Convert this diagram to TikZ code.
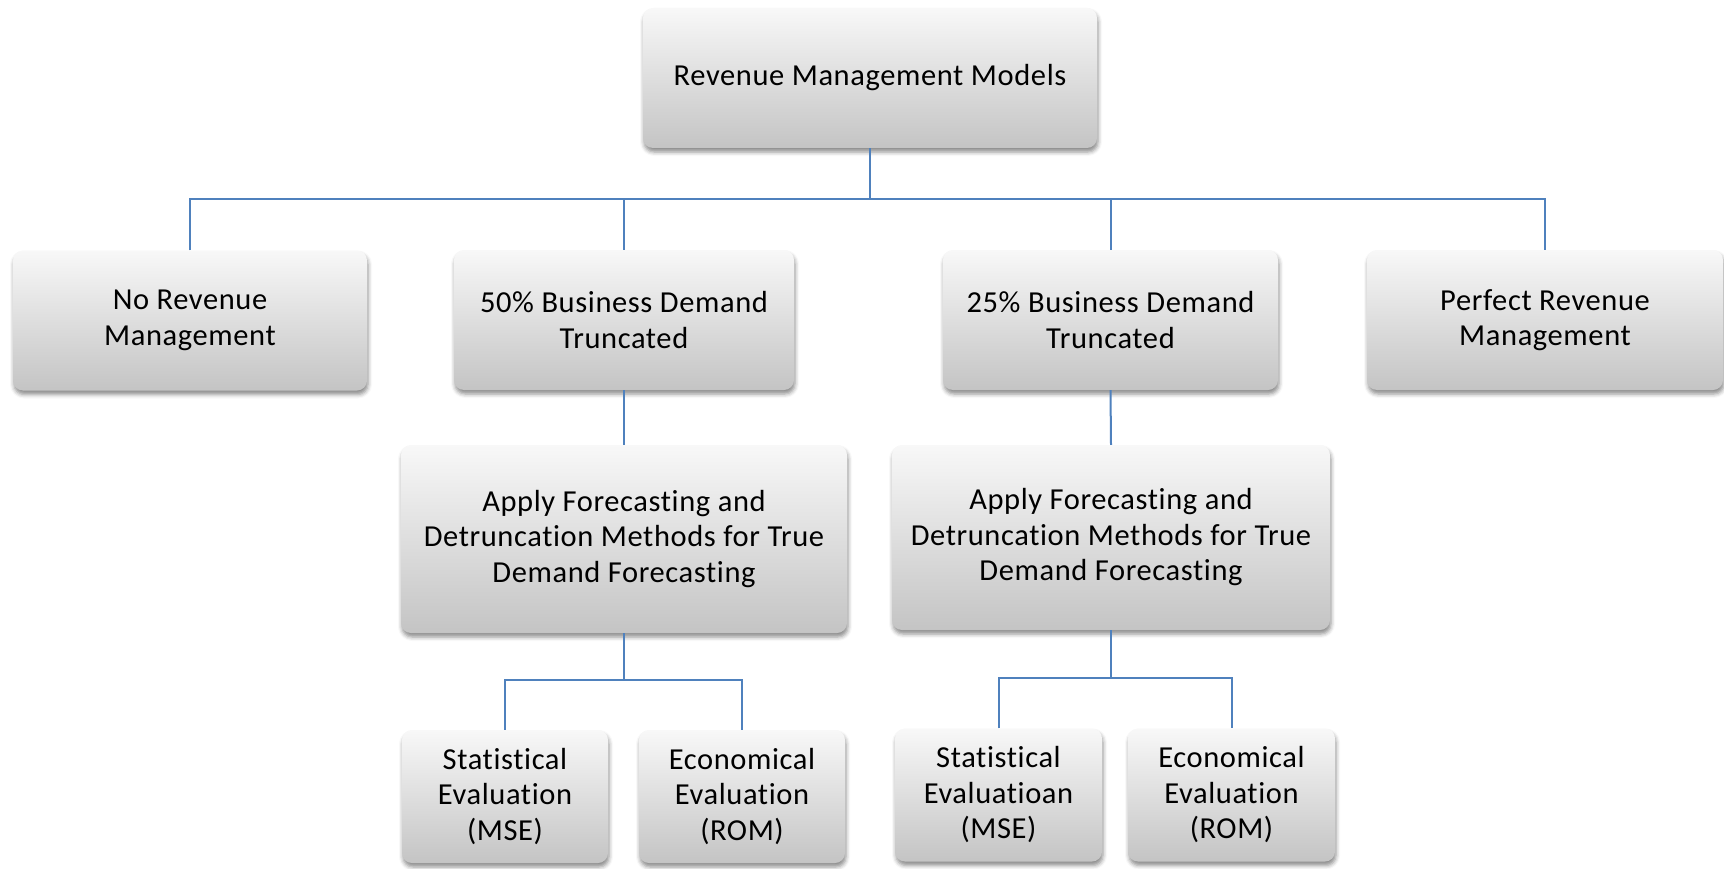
\documentclass[tikz,border=0pt]{standalone}
\usepackage{fontspec}
\setmainfont{Carlito}[LetterSpace=2, Ligatures={NoCommon}]
\usetikzlibrary{shadows.blur}

\definecolor{boxtop}{RGB}{248,248,248}
\definecolor{boxbot}{RGB}{196,196,196}
\definecolor{linkblue}{RGB}{79,129,189}

\tikzset{
  card/.style={
    rounded corners=10pt,
    top color=boxtop, bottom color=boxbot,
    blur shadow={shadow xshift=1pt, shadow yshift=-4pt,
                 shadow blur radius=4pt, shadow opacity=45},
    align=center, inner sep=0pt,
    font=\fontsize{30.5}{35.5}\selectfont
  },
  conn/.style={draw=linkblue, line width=2pt}
}

\begin{document}
\begin{tikzpicture}[x=1pt, y=-1pt]
\useasboundingbox (0,0) rectangle (1724,869);

% top level
\node[card, minimum width=454pt, minimum height=140pt] (top) at (870,78) {Revenue Management Models};

% second level
\node[card, minimum width=354pt, minimum height=140pt] (nr) at (190,320.5) {No Revenue\\Management};
\node[card, minimum width=340pt, minimum height=140pt] (b50) at (624,320) {50\% Business Demand\\Truncated};
\node[card, minimum width=335pt, minimum height=140pt] (b25) at (1110.5,320) {25\% Business Demand\\Truncated};
\node[card, minimum width=356pt, minimum height=140pt] (pr) at (1545,320) {Perfect Revenue\\Management};

% forecasting step
\node[card, minimum width=446pt, minimum height=188pt] (a50) at (624,539) {Apply Forecasting and\\Detruncation Methods for True\\Demand Forecasting};
\node[card, minimum width=438pt, minimum height=185pt] (a25) at (1111,537.5) {Apply Forecasting and\\Detruncation Methods for True\\Demand Forecasting};

% evaluation boxes
\node[card, minimum width=206pt, minimum height=133pt] (s50) at (505,796.5) {Statistical\\Evaluation\\(MSE)};
\node[card, minimum width=206pt, minimum height=133pt] (e50) at (742,796.5) {Economical\\Evaluation\\(ROM)};
\node[card, minimum width=207pt, minimum height=133pt] (s25) at (998.5,795) {Statistical\\Evaluatioan\\(MSE)};
\node[card, minimum width=207pt, minimum height=133pt] (e25) at (1231.5,795) {Economical\\Evaluation\\(ROM)};

% connectors
\coordinate (bus) at (870,199);
\coordinate (fork50) at (624,680);
\coordinate (fork25) at (1111,678);

\draw[conn] (top.south) -- (bus);
\draw[conn] (nr.north) -- (nr.north |- bus) -- (pr.north |- bus) -- (pr.north);
\draw[conn] (b50.north) -- (b50.north |- bus);
\draw[conn] (b25.north) -- (b25.north |- bus);

\draw[conn] (b50.south) -- (a50.north);
\draw[conn] (b25.south) -- (a25.north);

\draw[conn] (a50.south) -- (fork50);
\draw[conn] (s50.north) -- (s50.north |- fork50) -- (e50.north |- fork50) -- (e50.north);
\draw[conn] (a25.south) -- (fork25);
\draw[conn] (s25.north) -- (s25.north |- fork25) -- (e25.north |- fork25) -- (e25.north);
\end{tikzpicture}
\end{document}
